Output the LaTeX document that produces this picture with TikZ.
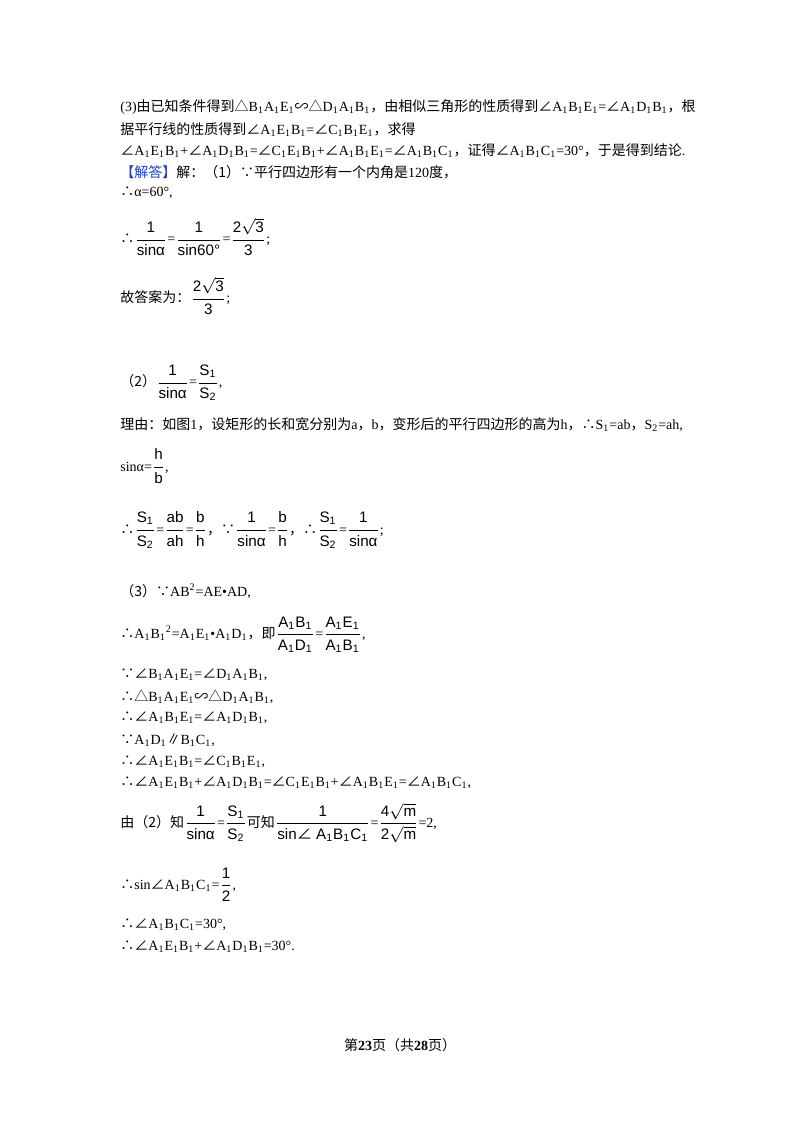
\documentclass[tikz,border=0pt]{standalone}
\usepackage{amsmath}
\usepackage{fontspec}
\setmainfont{Liberation Serif}
\setsansfont{Liberation Sans}
\newfontfamily\cjk{Noto Sans CJK SC}
\newcommand\C[1]{{\cjk #1}}
\newcommand\lo[1]{\textsubscript{#1}}
\newcommand\F[2]{{\fontsize{7.6}{9}\selectfont$\dfrac{\textsf{#1}}{\textsf{#2}}$}}
\definecolor{ans}{RGB}{30,60,200}
\begin{document}
\begin{tikzpicture}[x=0.5pt,y=-0.5pt,
  ln/.style={anchor=west,inner sep=0pt,font=\fontsize{7}{9}\selectfont}]
\useasboundingbox (0,0) rectangle (800,1132);
\node[ln] (l1) at (120,107) {(3)\C{由已知条件得到△}B\lo1A\lo1E\lo1\C{∽△}D\lo1A\lo1B\lo1\C{，由相似三角形的性质得到∠}A\lo1B\lo1E\lo1=\C{∠}A\lo1D\lo1B\lo1\C{，根}};
\node[ln] (l2) at (120,130) {\C{据平行线的性质得到∠}A\lo1E\lo1B\lo1=\C{∠}C\lo1B\lo1E\lo1\C{，求得}};
\node[ln] (l3) at (120,151) {\C{∠}A\lo1E\lo1B\lo1+\C{∠}A\lo1D\lo1B\lo1=\C{∠}C\lo1E\lo1B\lo1+\C{∠}A\lo1B\lo1E\lo1=\C{∠}A\lo1B\lo1C\lo1\C{，证得∠}A\lo1B\lo1C\lo1=30°\C{，于是得到结论}.};
\node[ln] (l4) at (120,172) {\textcolor{ans}{\C{【解答】}}\C{解：（1）∵平行四边形有一个内角是}120\C{度，}};
\node[ln] (l5) at (120,193) {\C{∴}α=60°,};
\node[ln] (l6) at (120,237) {\C{∴}\F{1}{sinα}=\F{1}{sin60°}=\F{2$\sqrt{\text{3}}$}{3};};
\node[ln] (l7) at (120,296) {\C{故答案为：}\F{2$\sqrt{\text{3}}$}{3};};
\node[ln] (l8) at (120,383) {\C{（2）}\F{1}{sinα}=\F{S\lo1}{S\lo2},};
\node[ln] (l9) at (120,425) {\C{理由：如图}1\C{，设矩形的长和宽分别为}a\C{，}b\C{，变形后的平行四边形的高为}h\C{，∴}S\lo1=ab\C{，}S\lo2=ah,};
\node[ln] (l10) at (120,466) {sinα=\F{h}{b},};
\node[ln] (l11) at (120,530) {\C{∴}\F{S\lo1}{S\lo2}=\F{ab}{ah}=\F{b}{h}\C{，∵}\F{1}{sinα}=\F{b}{h}\C{，∴}\F{S\lo1}{S\lo2}=\F{1}{sinα};};
\node[ln] (l12) at (120,591) {\C{（3）∵}AB\textsuperscript{2}=AE•AD,};
\node[ln] (l13) at (120,635) {\C{∴}A\lo1B\lo1\textsuperscript{2}=A\lo1E\lo1•A\lo1D\lo1\C{，即}\F{A\lo1B\lo1}{A\lo1D\lo1}=\F{A\lo1E\lo1}{A\lo1B\lo1},};
\node[ln] (l14) at (120,675) {\C{∵∠}B\lo1A\lo1E\lo1=\C{∠}D\lo1A\lo1B\lo1,};
\node[ln] (l15) at (120,697) {\C{∴△}B\lo1A\lo1E\lo1\C{∽△}D\lo1A\lo1B\lo1,};
\node[ln] (l16) at (120,718) {\C{∴∠}A\lo1B\lo1E\lo1=\C{∠}A\lo1D\lo1B\lo1,};
\node[ln] (l17) at (120,740) {\C{∵}A\lo1D\lo1\C{∥}B\lo1C\lo1,};
\node[ln] (l18) at (120,762) {\C{∴∠}A\lo1E\lo1B\lo1=\C{∠}C\lo1B\lo1E\lo1,};
\node[ln] (l19) at (120,783) {\C{∴∠}A\lo1E\lo1B\lo1+\C{∠}A\lo1D\lo1B\lo1=\C{∠}C\lo1E\lo1B\lo1+\C{∠}A\lo1B\lo1E\lo1=\C{∠}A\lo1B\lo1C\lo1,};
\node[ln] (l20) at (120,823) {\C{由（2）知}\F{1}{sinα}=\F{S\lo1}{S\lo2}\C{可知}\F{1}{sin\C{∠} A\lo1B\lo1C\lo1}=\F{4$\sqrt{\text{m}}$}{2$\sqrt{\text{m}}$}=2,};
\node[ln] (l21) at (120,885) {\C{∴}sin\C{∠}A\lo1B\lo1C\lo1=\F{1}{2},};
\node[ln] (l22) at (120,925) {\C{∴∠}A\lo1B\lo1C\lo1=30°,};
\node[ln] (l23) at (120,947) {\C{∴∠}A\lo1E\lo1B\lo1+\C{∠}A\lo1D\lo1B\lo1=30°.};
\node[ln,anchor=center] (ft) at (400,1045) {\C{第}\textbf{23}\C{页（共}\textbf{28}\C{页）}};
\end{tikzpicture}
\end{document}
